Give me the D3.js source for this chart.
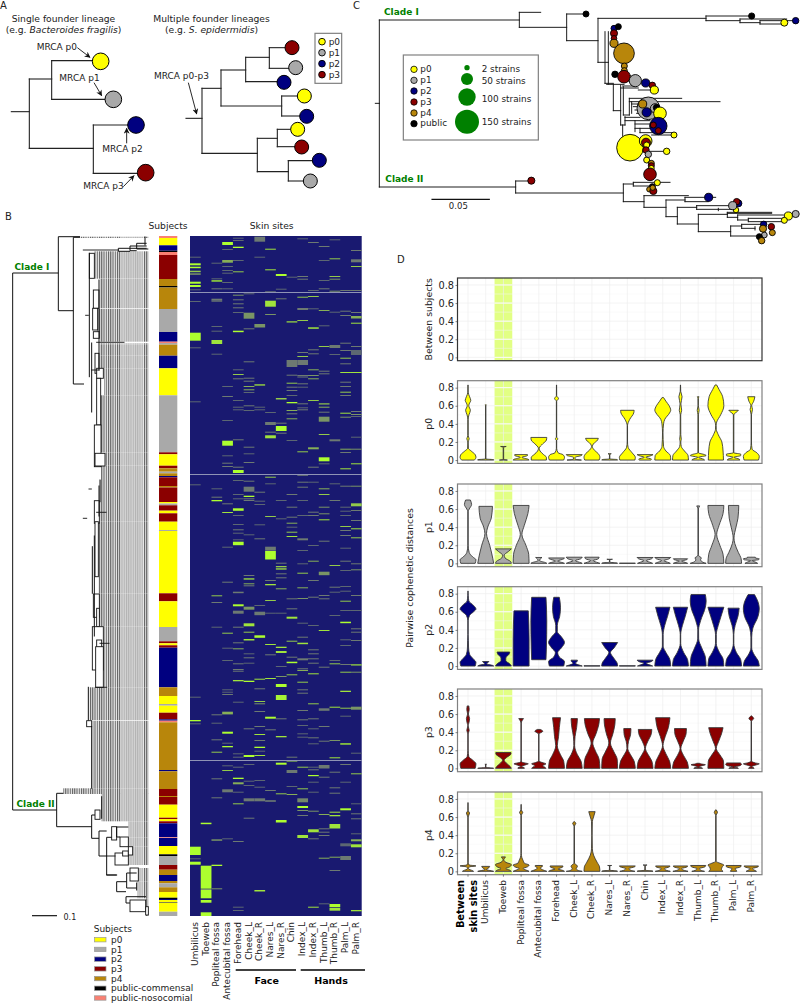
<!DOCTYPE html>
<html><head><meta charset="utf-8">
<script src="https://cdn.jsdelivr.net/npm/d3@7/dist/d3.min.js"></script>
<style>html,body{margin:0;padding:0;background:#fff}svg{display:block}text{font-family:"DejaVu Sans",sans-serif;fill:#222}</style>
</head><body><svg id="fig" width="800" height="1003"></svg>
<script>
const subjectColors={p0:"#ffff00",p1:"#a9a9a9",p2:"#000080",p3:"#8b0000",p4:"#b8860b",pc:"#000000",pn:"#fa8072"};
const legendSubjects=[["p0","p0"],["p1","p1"],["p2","p2"],["p3","p3"],["p4","p4"],["pc","public-commensal"],["pn","public-nosocomial"]];

// ---------- Panel A (units: tree-layout units, 3 per pixel)
const treeA_h=[[335,34,88],[237,88,155],[182,155,280],[298,155,320],[445,88,280],[375,280,385],[520,280,415],
 [355,558,606],[265,606,663],[210,663,737],[172,737,808],[143,808,875],[205,808,885],[245,737,852],[318,663,845],[288,845,913],[348,845,920],[460,606,772],[415,772,832],[388,832,893],[440,832,905],[515,772,865],[482,865,958],[543,865,930]];
const treeA_v=[[88,237,445],[155,182,298],[280,375,520],[606,265,460],[663,210,318],[737,172,245],[808,143,205],[845,288,348],[772,415,515],[832,388,440],[865,482,543]];
const treeA_tips=[[302,184,25,"p0"],[340,298,25,"p1"],[408,375,25,"p2"],[437,518,25,"p3"],
 [876,143,21,"p3"],[887,203,21,"p1"],[852,247,21,"p2"],[913,288,21,"p0"],[920,349,21,"p2"],[893,388,21,"p0"],[905,441,21,"p3"],[958,481,21,"p2"],[931,543,21,"p1"]];
const treeA_arrows=[[232,143,270,172],[282,248,305,287],[380,430,380,385],[370,560,402,527],[565,248,590,342]];
const treeA_labels=[["MRCA p0",110,150],["MRCA p1",178,243],["MRCA p2",307,456],["MRCA p3",250,567],["MRCA p0-p3",462,238]];

// ---------- Panel B
const subjectStrip=[["pn",0,2],["p0",2,9.3],["p2",9.3,14.7],["pc",14.7,16],["pn",16,19],["p3",19,43],["p4",43,50],["pc",50,51.5],["p4",51.5,73],["p1",73,96],["p2",96,105.7],["pn",105.7,107],["p1",107,108.7],["p4",108.7,119.7],["p2",119.7,132.3],["p0",132.3,159.3],["p1",159.3,216.3],["p3",216.3,218.3],["p0",218.3,229.7],["p3",229.7,232.3],["p4",232.3,235.7],["p1",235.7,237.3],["p4",237.3,240],["p2",240,241.3],["p3",241.3,250],["p4",250,251.5],["p3",251.5,266],["p0",266,267.5],["p1",267.5,269.3],["p3",269.3,274.7],["p0",274.7,277.3],["p3",277.3,285.7],["p0",285.7,294],["p1",294,295],["p0",295,357.3],["p3",357.3,365.3],["p0",365.3,391],["p1",391,405.3],["p3",405.3,407.3],["p0",407.3,409.3],["p3",409.3,411.7],["p2",411.7,451.3],["p4",451.3,460],["p0",460,468],["p1",468,469.7],["p0",469.7,476.7],["p3",476.7,483.3],["p2",483.3,484.7],["pn",484.7,486.3],["p4",486.3,534],["p2",534,535.3],["p4",535.3,553],["p3",553,560],["p4",560,561],["p3",561,568.7],["p0",568.7,581.7],["p3",581.7,583],["p0",583,585.3],["p3",585.3,587.3],["p2",587.3,601.3],["pn",601.3,602],["p2",602,610],["p0",610,618.3],["pc",618.3,620],["p1",620,629],["p3",629,633.7],["p4",633.7,639],["p2",639,645],["p4",645,647.3],["p1",647.3,651.3],["p4",651.3,656],["p0",656,661.7],["pc",661.7,663],["p2",663,664],["p0",664,666.7],["p2",666,666.7],["p0",666.7,675.7],["p1",675.7,680]];
const sites=["Umbilicus","Toeweb","Popliteal fossa","Antecubital fossa","Forehead","Cheek_L","Cheek_R","Nares_L","Nares_R","Chin","Index_L","Index_R","Thumb_L","Thumb_R","Palm_L","Palm_R"];
const fullRows=[56,238,524];
// each cell: [strain rank, rows, value]
const cellsUmbilicus=[[20.7,1,.4],[27.3,2,1],[30.7,1.5,1],[34.7,1.5,.8],[37.3,1.5,.6],[45.7,2,1],[49,2,1],[53.3,1,.4],[65,1,.4],[96.7,8,1],[111.3,1,.4],[165.3,1,.4],[248.3,1,.4],[460.7,1,.4],[484,1.3,1],[487.3,1,.4],[610.7,8.3,1],[622.3,1,.4],[625.7,3,1]];
const cellsToeweb=[[586.7,1.5,1],[629.7,23,1],[653,1,.6],[654,8.3,1],[664,2.7,1],[676.3,3.7,1]];
const cellsPopliteal=[[26.7,1,.4],[42.3,1,.4],[44.3,1.3,1],[52.3,1,.5],[62.7,2,.5],[64.7,1,.5],[90,1,.4],[94.7,1,.4],[104,4,.9],[117.7,1,.4],[252.3,1,.4],[260.7,1,.5],[264,1.3,1],[359.3,1,.8],[366,1,.5],[390.7,1,.4],[478.3,1,.5],[486.7,1,.4],[503.3,1,.5],[515.7,1,.8],[542.3,1,.5],[561.3,1,.5],[603.3,1.5,.6],[628.7,1.3,1],[652.3,1,.6]];
const cellsAntecubital=[[6,3,1],[13,1,.4],[24,2.7,.7],[30,1,.4],[34,1,.4],[36.7,1,.4],[46,1,.4],[52.3,1,.4],[150,1,.4],[160,1,.5],[184,1,.4],[204.7,5,1],[219.3,1,.4],[226.7,1,.5],[230,1,.5],[267.3,1,.5],[276,1,.9],[310.7,1,.4],[345.7,1,.5],[396.7,1,.8],[411.7,1,.4],[424,1,.4],[453.3,1,.4],[455.7,1,.4],[458,1,.5],[475.7,2.7,.7],[495.7,2,1],[506.7,1,.4],[510,1.3,1],[529.3,1,.4],[534,1,.8],[553.3,3,.5],[602.3,1,.4]];
const cellsForehead=[[1.7,1,.4],[4,1,.4],[10.7,1.3,1],[24,1,.4],[35.3,1,.8],[58.7,1,.6],[63.3,1,.5],[67.3,1,.5],[71.3,1,.5],[76,1,.4],[94.7,1.5,1],[133.3,1,.4],[138,1,.8],[142.3,1,.5],[164,1,.4],[170.7,1,.4],[173.3,1,.4],[203.3,1,.5],[230.7,1,.5],[234,3,1],[244,1,.4],[258,1,.4],[262.3,1,.4],[272.3,2.5,1],[279,1,.4],[288,1,.4],[293.3,1,.5],[296.7,1,.4],[303.3,1,.4],[305.7,3.5,1],[355.7,1.5,.5],[368.3,2,1],[374.7,3,.5],[390.7,1,.5],[406.3,1,.5],[412.3,1,.7],[427.3,1,.5],[433,1,.5],[434.7,1,.5],[444,1.3,.9],[465.7,1,.4],[517.3,1,.4],[520.7,1,.4],[530.7,1,.4],[541.7,1.3,1],[546.3,2,.7],[555.7,1,.4],[567.3,1,.8],[605,1,.5],[670.7,1,.4],[674,1,.4]];
const cellsCheekL=[[57.3,1,.4],[76.7,6,.6],[92.3,1,.5],[125.3,1,.5],[141.7,1,.5],[144.7,1,.5],[150,1,.7],[153.3,1,.7],[156,1,.4],[169.3,1,.5],[174,1,.4],[210.7,1,.5],[217.3,1,.4],[226,1,.5],[244.7,1,.5],[250.7,5,.5],[259.7,1.3,1],[262.3,1,.5],[264,1,.5],[298.3,1,.4],[339,1,.5],[342.3,1.3,.9],[347.3,1,.7],[349.3,1,.5],[370.7,3,.6],[387.3,3,.9],[395.7,1,.8],[403,1.5,.9],[417.3,1,.4],[421.3,1,.5],[426.7,1,.4],[444.7,1.3,1],[492.3,1,.5],[519,2,1],[528,1,.4],[544.7,1,.4],[549,1,.4],[562.3,3,.5],[581.7,1,.5]];
const cellsCheekR=[[.7,5,.5],[20.7,1,.4],[88,3.5,.6],[148.3,1.3,.9],[170.7,1,.4],[173.3,1,.4],[255.7,1,.5],[264.7,1,.4],[268,1,.4],[288.3,1,.4],[302.3,1,.5],[369,1,.4],[375.7,3.5,.5],[399.3,2.5,1],[442.7,1,.9],[452.3,1,.5],[465,1,.8],[467.3,1,.6],[475,1,.5],[490,1,.5],[498,1,.9],[504,1,.5],[510.7,1.3,1],[514.7,1,.4],[519,1,.9],[544,1,.4],[550.7,1,.4],[562.3,3,.5],[654,1.5,.9]];
const cellsNaresL=[[12.7,1,.9],[33.3,1,.9],[55.3,1,.5],[64.7,6,.9],[78,1,.6],[176,1,.4],[186,3,.5],[195.7,1,.5],[199.3,3,.9],[240.7,1,.8],[247.3,1,.4],[280,1,.8],[310.7,4,.5],[315,8.5,1],[344,1,.5],[348,1.3,.9],[364,1,.8],[376.7,1,.4],[408,1,.9],[418.3,1,.5],[442,1,.9],[480.7,2,1],[493.3,1,.5],[554,1,.5],[564,2,.4]];
const cellsNaresR=[[38,2,1],[52.7,1,.4],[62.3,1,.5],[162,1.5,.8],[186.7,1,.5],[190,5,1],[196.7,1,.5],[264,1,.4],[282.3,1,.4],[326.7,1,.5],[330,1.3,.8],[332.3,1.3,.9],[337.3,1,.5],[341.3,1,.5],[352.3,1,.7],[376.7,1,.4],[410.7,1.3,.9],[415,2,.9],[430,1,.4],[440,1,.6],[448,3,1],[459,5,.95],[482.3,1,.5],[500,1.3,.9],[526.7,2,1],[557.3,1,.8],[584,2.5,1]];
const cellsChin=[[40.7,1,.4],[85.3,1.2,.9],[124,7,.5],[138.7,1,.5],[146.7,1,.8],[150.7,1,.5],[154,1,.5],[159,1,.4],[166,1.3,1],[174,1,.7],[177.3,1,.5],[182.3,1,.7],[204,1,.4],[258,1,.5],[270.7,1,.5],[280.7,1,.5],[286.7,1,.7],[290.7,1,.4],[295.7,1,.8],[300,1,.9],[362.3,1,.5],[372.3,1,.5],[380.7,2,.9],[404.7,1,.8],[420.7,1,.5],[425.7,1.5,1],[438.3,1,.8],[520.7,1,.5],[524,1.5,.9],[534,3,.5],[550,1,.4],[558,1,.7]];
const cellsIndexL=[[2.3,1,.4],[40,1,.5],[42.7,1,.5],[60.7,1,.8],[72,2,.5],[84,1,.8],[116,1,.5],[120,1,.8],[124,5,.5],[139,1,.5],[140.5,1,.5],[147.3,1,.5],[150.7,1,.4],[167.3,1,.5],[171.3,1,.4],[173.3,1,.5],[215.3,1,.8],[239,1,.4],[245.7,1,.5],[250.7,1,.5],[264,1,.4],[279,1,.4],[302.3,2,.5],[314,1,.4],[327.3,1,.4],[336.7,1,.8],[351.3,1,.7],[362,1,.6],[386.7,1,.4],[400.7,1,.5],[406.7,1.5,.9],[422.3,2,.5],[432.3,1,.5],[434,1,.7],[445.7,1,.8],[453.3,1,.5],[456.7,1,.5],[474,1,.5],[483.3,1,.5],[489,1,.4],[497.3,1,.4],[500.7,1,.4],[530.7,1,.8],[552.3,1,.8],[562.3,4,.55],[570,2,1],[574,1,.6],[579,1,.5],[599,3,.9]];
const cellsIndexR=[[6,1,.5],[54,1,.4],[60,1,.8],[72.3,1,.4],[91.3,1.5,.9],[113.3,1,.5],[117.3,1,.5],[133.3,1,.7],[139,1,.6],[142.3,1,.7],[164,1,.8],[211.3,2,.7],[230.7,1,.5],[245.7,1,.4],[275.7,1,.5],[279,1,.5],[309,1,.4],[324.7,1,.7],[344,1,.5],[360.7,1,.5],[389,1,.4],[413.3,1,.5],[417.3,1,.5],[422.3,1,.5],[426.7,1,.5],[437.3,1,.9],[467.3,1,.8],[482.3,1,.5],[492.3,1,.4],[501.3,1,.5],[507.3,1,.4],[530.7,1,.4],[533.3,1,.5],[539,1.2,1],[545.7,1,.4],[555.7,1,.4],[574.7,1,.6],[593.3,3,.9],[602.3,1,.5],[670.7,1,.9]];
const cellsThumbL=[[10,1,.5],[24,1,.4],[44,1,.4],[52.3,1,.5],[74,1,.7],[89.3,1,.4],[110,1,.8],[134.7,1,.5],[137.3,1,.5],[167.3,1.2,.8],[170.7,1,.7],[175.7,1,.5],[180.7,5,.6],[198,1,.8],[221.3,4,1],[227.3,1,.4],[252.3,1,.7],[258,1,.8],[270.7,1,.6],[277.3,1,.6],[283.3,1,.9],[304.7,1,.5],[335.7,3.5,.6],[359,1,.5],[362.3,1,.5],[394,1,.9],[430.7,1,.5],[472.3,2.5,.5],[490,1,.5],[504.7,1,.5],[529,3.5,.5],[540.7,1,.5],[578,1,.7],[592.3,1,.5],[595.7,1,.5],[599,1,.5],[621.7,1,.7],[667.3,1,.4]];
const cellsThumbR=[[3.3,1,.4],[22.3,1,.8],[40,1,.8],[42.7,1,.6],[54.7,1,.6],[75.7,1,.4],[109,3,.5],[118,1,.4],[203.3,2,.5],[247.3,1,.4],[264,1,.5],[329,1,.8],[350.7,1,.5],[355.7,1,.4],[379,1,.4],[424,1,.4],[427.3,1,.8],[470.7,1,.9],[504,1,.6],[521.3,1,.9],[535.7,1,.5],[551.3,1,.5],[556.7,1,.5],[575.7,1,.9],[579,1.3,.9],[588,4.5,.9],[620.7,1,.7],[634,1,.5],[668,3,1],[671.7,3,.9]];
const cellsPalmL=[[54,1,.5],[74.7,1,.5],[79,1,.5],[106.7,1,.5],[114,1,.5],[121.7,1,.8],[127.3,1,.5],[136,1,.9],[145.7,1,.5],[150,1,.5],[155.7,1,.8],[159,1,.5],[176.7,1,.9],[180.7,1,.6],[212.7,1,.7],[216,1,.5],[232.3,1,.9],[249.7,1,.5],[270.7,1,.4],[274.7,1,.4],[279,1,.4],[290,1,.8],[294,1,.5],[299,1,.5],[311.7,1,.4],[324.7,1,.5],[334,1,.4],[350,1,.4],[354.7,1,.4],[364.7,1,.8],[374,1,.4],[385.7,1.5,1],[403.3,1,.4],[409,1,.4],[428,1,.5],[435.7,1,.8],[454.7,1.3,.9],[471.7,1,.8],[479.7,1,.4],[507.3,1.3,1],[528,1,.5],[545.7,1,.4],[572.3,2,1],[607.3,3,.4],[620,4,.5]];
const cellsPalmR=[[14,1,.5],[23.3,3,.5],[30,1,.8],[54,1,.5],[76,1,.5],[80,2.5,.7],[86.7,1,.9],[110,1,.5],[114,5,.4],[136,1,.9],[175,1,.5],[178,1,.6],[180,1,.4],[200.7,1,.4],[212.7,1,.6],[227.3,1,.9],[249.7,1,.6],[267.3,3,.8],[274,1,.5],[284,1,.5],[292.3,1,.9],[301.3,1,.8],[327.3,1,.5],[333.3,1,.6],[359,1,.5],[374,1,.4],[392.3,1,.5],[395.7,1,.5],[404,1,.5],[428.3,1.2,.9],[435.7,1,.6],[470.7,3,.6],[516.7,1,.4],[537.3,1,.8],[567.3,1,.4],[577.3,1,.5],[582.3,1,.5],[597.3,1,.4],[603.3,2,.7],[608.3,3,.9],[674,1.3,.9]];
const siteCells=[cellsUmbilicus,cellsToeweb,cellsPopliteal,cellsAntecubital,cellsForehead,cellsCheekL,cellsCheekR,cellsNaresL,cellsNaresR,cellsChin,cellsIndexL,cellsIndexR,cellsThumbL,cellsThumbR,cellsPalmL,cellsPalmR];

// tree B, x in branch-length units (250*3 per 1.0 divergence), y in strain rank
const treeB_elbows=[[38,37,175,574,170],[175,.7,240,74.7,220],[220,1.3,240,148,252],[355,12.3,440,15.3,390],[390,10,440,14.7,410],[410,7.3,440,13,445],[170,557.3,190,590.7,275],[275,579,285,602.3,297],[297,595,320,620,320],[320,601.3,335,639,350],[350,591,385,601,360],[350,645.7,380,655.7,378],[380,637,410,652,410],[378,660.7,438,667,390]];
const treeB_boxes=[[268,283,17.3,42.3],[280,297,54,72.3],[278,293,72.3,94],[280,298,95.7,102.3],[285,297,117.3,137.3],[290,310,132.3,142.3],[290,302,142.3,189],[283,303,189,230.7],[285,315,217.3,230],[283,298,264.7,287.3],[285,295,285.7,340.7],[280,298,358,381.3],[290,298,372.3,390.7],[277,310,390.7,434],[290,305,404,444],[287,310,410.7,451.3],[260,275,484.7,490.7],[285,300,574,583.3],[335,350,590.7,604],[360,385,601,610.7],[345,385,617,629],[368,385,615,620],[385,398,610.7,619],[390,415,632,645],[390,437,664,675.7],[437,445,670.7,679]];
const treeB_v=[[268,17.3,140.7],[297,44,134],[275,107,176],[300,244,265.7],[277,310.7,357.3],[265,451.3,484],[275,490.7,552.3],[297,250,280],[283,300,400],[305,560.7,582.3],[410,647,654],[435,1,9]];
const treeB_h=[[14,250,355],[106.3,290,372],[79.3,257,265],[253,267,274],[282.3,250,260],[276.3,290,318],[451.3,287,320],[407.3,300,327],[639,320,350],[620,320,345],[134,275,297]];
const treeB_tipBlocks=[[.7,2,240],[15.3,42.7,283],[43,50,300],[50,72.3,300],[73,96,292],[96,105.7,300],[107.3,108.7,300],[108.7,119.7,300],[119.7,132.3,300],[132.3,159.3,312],[159.3,216.3,303],[216.3,229.7,315],[229.7,244,303],[244,285.7,300],[285.7,357.3,295],[357.3,390.7,298],[390.7,411,312],[411,451.3,312],[451.3,484,268],[484.7,552.3,278],[552.3,558,190],[557.3,585.3,305],[585.3,601.3,385],[601.3,610.7,360],[610.7,619,398],[619,629,385],[632,639,415],[639,645.7,412],[645.7,662.3,412],[662.3,667,437],[667,680,438]];

// ---------- Panel C (branch-length units: 172 units = 0.05)
const treeC_h=[[310,76,88],[60,88,508],[37,508,572],[82,508,650],[42,650,708],[122,650,744],[55,744,1068],[48,1068,1205],[62,1068,1170],[57,1170,1310],[68,1170,1230],[62,1230,1337],[72,1230,1303],[187,744,775],[250,765,790],[253,770,822],[332,790,812],[258,818,860],[270,865,925],[264,812,865],[295,838,995],[305,838,1110],[345,820,838],[312,845,880],[320,850,870],[330,855,890],[340,860,880],[352,825,870],[362,825,900],[372,855,910],[385,855,920],[398,870,972],[405,905,972],[375,812,825],[440,818,840],[454,890,950],
 [561,88,497],[543,497,543],[579,497,820],[552,820,850],[547,850,960],[558,850,905],[605,820,882],[587,882,1015],[622,882,948],[600,948,1005],[592,1005,1097],[605,1005,1075],[650,948,982],[622,982,1040],[617,1040,1145],[628,1040,1160],[672,982,1045],[643,1045,1132],[637,1132,1265],[640,1132,1265],[652,1132,1163],[645,1163,1300],[660,1163,1195],[655,1195,1305],[665,1195,1300],[695,1045,1142],[678,1142,1175],[673,1175,1240],[685,1175,1215],[708,1142,1225]];
const treeC_v=[[88,60,561],[508,37,82],[650,42,122],[744,55,187],[1068,48,62],[1170,57,68],[1230,62,72],[775,95,252],[765,95,250],[790,253,332],[812,255,375],[818,375,440],[820,260,345],[838,295,345],[845,305,340],[825,350,375],[855,362,395],[870,385,398],[497,543,579],[820,552,605],[850,547,558],[882,587,622],[948,600,650],[1005,592,605],[982,622,672],[1040,617,628],[1105,625,632],[1045,643,695],[1132,637,652],[1163,645,660],[1195,655,665],[1142,678,708],[1175,673,685],[1215,680,690]];
// circle: [x, y, strains, subject]
const treeC_tips=[[708,42,7,"pc"],[1205,48,8,"pc"],[1337,62,10,"p2"],[1303,68,14,"p0"],
 [792,85,7,"p2"],[805,80,7,"pc"],[792,100,15,"p3"],[792,115,4,"p3"],[792,130,22,"p4"],[822,160,125,"p4"],[823,198,7,"p4"],[823,212,7,"p4"],[795,223,10,"pc"],[838,235,4,"p4"],[822,230,56,"p3"],[856,242,52,"p1"],[887,249,22,"p2"],[907,256,10,"p3"],[913,270,22,"p0"],
 [895,325,140,"p1"],[878,312,22,"p4"],[915,325,30,"p1"],[920,323,12,"pc"],[890,337,30,"p2"],[930,340,56,"p0"],[925,378,100,"p2"],[910,375,7,"p3"],[925,392,7,"p3"],[972,405,7,"p0"],
 [840,443,170,"p0"],[887,423,56,"p0"],[888,428,28,"p3"],[890,435,7,"p0"],[950,454,10,"p0"],[888,450,10,"p3"],[890,480,7,"p0"],[895,463,10,"p1"],[904,490,7,"p4"],[904,497,7,"p3"],[904,505,5,"p0"],[900,523,56,"p3"],[922,548,7,"p0"],[907,560,7,"pc"],[898,568,2,"p4"],[910,573,15,"p3"],[908,563,2,"p4"],
 [544,542,15,"p3"],[1076,592,22,"p2"],[1165,610,15,"p2"],[1160,605,10,"p3"],[1158,630,3,"p0"],[1148,617,22,"p1"],[1337,642,15,"p1"],[1315,648,22,"p0"],[1303,661,7,"p0"],[1241,673,10,"p2"],[1264,680,10,"p3"],[1243,705,5,"p1"],[1239,686,15,"p4"],[1267,698,7,"p4"],[1228,710,7,"pc"],[1235,722,10,"p4"]];
const legendCSubjects=[["p0","p0",208],["p1","p1",241],["p2","p2",273],["p3","p3",306],["p4","p4",339],["pc","public",371]];
const legendCStrains=[[2,203,207],[50,237,243],[100,291,295],[150,365,366]];
const strainDomain=[2,50,100,150], strainRadius=[8,18,26,36];

// ---------- Panel D
const violinSites=["Between skin sites","Umbilicus","Toeweb","Popliteal fossa","Antecubital fossa","Forehead","Cheek_L","Cheek_R","Nares_L","Nares_R","Chin","Index_L","Index_R","Thumb_L","Thumb_R","Palm_L","Palm_R"];
const yTicks=[0,.2,.4,.6,.8];
const violinsP0=[
[[0,.8],[.03,1],[.06,.9],[.1,.4],[.13,.05],[.2,.02],[.235,.15],[.27,.02],[.45,.02],[.5,.12],[.55,.3],[.6,.1],[.62,.15],[.66,.35],[.7,.2],[.75,.02],[.83,.01]],
[[0,1],[.004,1],[.012,.03],[.6,.02],[.61,.08]],
[[0,.5],[.006,.03],[.14,.03],[.15,.35]],
[[0,1],[.008,.9],[.03,.1],[.05,.8],[.06,.8]],
[[0,.95],[.03,.95],[.06,.6],[.1,.15],[.13,.05],[.18,.5],[.22,.95],[.25,1]],
[[0,.9],[.03,1],[.06,.8],[.08,.2],[.13,.02],[.22,.02],[.235,.2],[.25,.02],[.4,.02],[.65,.02],[.68,.25],[.71,.02],[.83,.01]],
[[0,.9],[.01,.1],[.03,.1],[.05,.9],[.06,1]],
[[0,.9],[.03,1],[.07,.8],[.11,.3],[.15,.05],[.18,.2],[.22,.7],[.24,.8]],
[[0,1],[.006,.9],[.012,.03],[.06,.02],[.07,.2]],
[[0,.95],[.03,1],[.08,.6],[.14,.1],[.2,.02],[.38,.02],[.45,.3],[.52,.8],[.55,.85]],
[[0,.7],[.01,.8],[.03,.1],[.05,.8],[.06,1]],
[[0,1],[.05,.95],[.1,.4],[.15,.1],[.3,.03],[.4,.1],[.45,.25],[.52,.85],[.55,1],[.6,.8],[.65,.4],[.69,.1]],
[[0,1],[.05,.95],[.1,.5],[.15,.1],[.2,.04],[.23,.1],[.28,.04],[.5,.03],[.55,.15],[.62,.05],[.7,.2],[.76,.03],[.83,.01]],
[[0,.8],[.008,.7],[.03,.05],[.05,1],[.06,.8],[.08,.03],[.5,.03],[.55,.12],[.6,.02],[.68,.03],[.7,.1]],
[[0,.95],[.1,.9],[.2,.75],[.28,.3],[.34,.05],[.38,.03],[.42,.1],[.5,.6],[.6,1],[.7,.85],[.78,.4],[.83,.1]],
[[0,.8],[.01,.7],[.03,.05],[.05,.9],[.065,.9],[.08,.03],[.5,.03],[.54,.5],[.55,.6]],
[[0,.9],[.04,1],[.08,.7],[.12,.1],[.2,.02],[.5,.02],[.56,.15],[.6,.05],[.65,.3],[.7,.45]]];
const violinsP1=[
[[0,.9],[.04,1],[.07,.6],[.12,.15],[.2,.02],[.57,.02],[.6,.15],[.65,.45],[.7,.3]],
[[0,1],[.05,.9],[.2,.5],[.33,.1],[.4,.25],[.5,.7],[.63,.85]],
[[0,1],[.02,.9],[.06,.2],[.09,.1],[.13,.6],[.16,1]],
[[0,1],[.1,.95],[.2,.6],[.32,.1],[.42,.4],[.55,.85],[.64,1]],
[[0,1],[.006,.9],[.03,.1],[.05,.2],[.065,.4]],
[[0,1],[.005,.85],[.025,.15],[.05,.9],[.06,1]],
[[0,1],[.006,.85],[.03,.15],[.05,.8],[.068,1]],
[[0,1],[.006,.8],[.03,.15],[.05,.8],[.068,.9]],
[[0,1],[.005,.9],[.012,.03],[.04,.02],[.045,.35]],
[[0,1],[.002,1]],
[[0,.95],[.006,.8],[.03,.15],[.05,.8],[.065,1]],
[[0,.95],[.006,.8],[.03,.15],[.05,.8],[.065,1]],
[[0,.9],[.006,.75],[.025,.15],[.04,.75],[.05,.9]],
[[0,1],[.012,.6],[.04,.3],[.06,.4],[.08,.1],[.1,.02],[.6,.02],[.62,.1],[.635,.18]],
[[0,1],[.1,.9],[.2,.5],[.32,.1],[.42,.4],[.55,.9],[.64,1]],
[[0,1],[.05,.95],[.12,.6],[.22,.15],[.28,.05],[.4,.3],[.5,.55],[.64,.65]],
[[0,.8],[.01,.6],[.03,.1],[.04,.9],[.05,1],[.06,.5],[.068,.5]]];
const violinsP2=[
[[0,.9],[.04,1],[.08,.65],[.13,.2],[.2,.07],[.28,.05],[.35,.02],[.5,.02],[.56,.2],[.6,.7],[.63,1],[.67,.7],[.72,.1],[.78,.03],[.83,.01]],
[[0,1],[.006,.9],[.025,.1],[.04,.3],[.05,.4]],
[[0,1],[.02,.85],[.06,.3],[.09,.3],[.13,.7],[.155,.8]],
[[0,1],[.3,1],[.61,.9]],
[[.07,.9],[.2,.95],[.5,1],[.76,.9]],
[[0,.9],[.05,1],[.1,.35],[.15,.15],[.2,.6],[.26,1],[.33,.55],[.38,.1],[.45,.1],[.55,.4],[.65,.5],[.76,.35]],
[[0,1],[.006,.8],[.03,.15],[.05,.35],[.065,.4]],
[[0,1],[.003,1]],
[[0,1],[.03,.95],[.09,.5],[.15,.1],[.2,.55],[.26,1]],
[[0,1],[.003,1]],
[[0,.95],[.006,.8],[.03,.15],[.05,.8],[.065,1]],
[[0,1],[.07,.9],[.15,.4],[.22,.05],[.35,.05],[.45,.25],[.55,.6],[.65,.9]],
[[0,1],[.07,.9],[.15,.4],[.25,.03],[.35,.03],[.45,.25],[.55,.6],[.65,.9]],
[[0,1],[.1,.9],[.2,.45],[.3,.06],[.4,.05],[.5,.3],[.65,.9],[.72,1],[.79,.9]],
[[0,1],[.08,.9],[.15,.45],[.25,.05],[.35,.05],[.45,.3],[.55,.65],[.65,1]],
[[0,1],[.07,.9],[.15,.35],[.25,.03],[.35,.03],[.45,.2],[.55,.55],[.64,.7]],
[[0,1],[.06,.85],[.12,.4],[.2,.05],[.32,.05],[.42,.2],[.55,.85],[.63,1],[.72,.8],[.79,.4]]];
const violinsP3=[
[[0,.9],[.05,1],[.09,.6],[.13,.1],[.2,.02],[.38,.02],[.42,.15],[.47,.02],[.5,.1],[.55,.2],[.6,.05],[.65,.15],[.69,.1]],
[[0,1],[.003,.9],[.01,.03],[.04,.02],[.045,.1]],
[[0,1],[.02,.85],[.06,.35],[.09,.1],[.12,.4],[.16,.95],[.175,.95]],
[[0,.4],[.006,.4],[.02,.05],[.04,.6],[.05,.9],[.065,.2],[.08,.02],[.5,.02],[.55,.3]],
[[0,.9],[.01,.8],[.03,.5],[.05,.9],[.065,.4],[.08,.02],[.38,.02],[.41,.5],[.43,.2]],
[[0,1],[.08,.9],[.15,.5],[.25,.1],[.35,.25],[.45,.35],[.56,.5]],
[[0,1],[.08,.85],[.15,.4],[.25,.05],[.35,.1],[.45,.3],[.55,.4]],
[[0,1],[.1,.9],[.2,.4],[.28,.1],[.38,.5],[.48,.85],[.55,.95]],
[[0,1],[.1,.95],[.18,.55],[.28,.1],[.38,.4],[.48,.65],[.55,.7]],
[[0,1],[.08,.85],[.15,.4],[.22,.05],[.3,.15],[.37,.4],[.44,.45]],
[[0,1],[.08,.85],[.15,.4],[.22,.05],[.3,.35],[.37,.75],[.43,.85]],
[[0,1],[.08,.85],[.16,.4],[.25,.03],[.35,.3],[.45,.7],[.56,.9]],
[[0,1],[.07,.85],[.14,.4],[.22,.05],[.3,.35],[.38,.7],[.44,.75]],
[[0,.55],[.005,.5],[.015,.05],[.03,.5],[.04,.9],[.05,.3],[.056,.2]],
[[0,1],[.08,.95],[.15,.5],[.22,.05],[.3,.35],[.38,.7],[.45,.9]],
[[0,.6],[.006,.5],[.015,.05],[.03,.8],[.045,1],[.06,.85]],
[[0,.35],[.006,.3],[.02,.05],[.035,.5],[.05,1],[.06,.5],[.08,.03],[.52,.02],[.55,.3],[.58,.02]]];
const violinsP4=[
[[0,.7],[.006,.6],[.03,.05],[.05,.2],[.06,1],[.07,.15],[.1,.02],[.6,.02],[.645,.2],[.67,.02],[.76,.01]],
[[0,1],[.006,.7],[.02,.1],[.04,.4],[.055,.5]],
[[0,1],[.015,.75],[.03,.3],[.05,.8],[.075,1],[.1,.3],[.13,.05],[.15,.2],[.16,.25]],
[[0,1],[.015,.6],[.03,.25],[.05,.8],[.07,1],[.09,.4],[.12,.25],[.15,.1],[.2,.02],[.62,.02],[.65,.2],[.68,.02],[.74,.01]],
[[0,1],[.01,.7],[.025,.3],[.04,.2],[.055,.45],[.065,.45]],
[[0,1],[.01,.8],[.025,.2],[.05,.8],[.06,.8]],
[[0,1],[.01,.5],[.03,.25],[.055,.4],[.07,.3],[.09,.03],[.5,.02],[.53,.2],[.55,.02]],
[[0,1],[.05,.95],[.1,.65],[.18,.2],[.25,.05],[.4,.02],[.55,.05],[.6,.2],[.66,.4]],
[[0,1],[.005,.9],[.012,.03],[.06,.02],[.065,.25]],
[[0,.95],[.01,.5],[.03,.2],[.05,.9],[.06,1]],
[[0,1],[.005,.9],[.012,.03],[.065,.02],[.07,.25]],
[[0,.95],[.01,.5],[.03,.2],[.05,.85],[.06,.9]],
[[0,.95],[.01,.5],[.03,.15],[.05,.85],[.06,.9]],
[[0,.8],[.01,.4],[.03,.15],[.05,.85],[.065,.95]],
[[0,.9],[.02,.7],[.05,.8],[.07,1],[.09,.5],[.11,.03],[.62,.02],[.65,.2],[.68,.03]],
[[0,.4],[.01,.35],[.03,.2],[.05,.9],[.065,.95]],
[[0,.65],[.01,.45],[.03,.15],[.05,.85],[.06,.9]]];
const violinPanels=[
 {name:"Between subjects",key:null,top:278,data:[],frame:"#333333"},
 {name:"p0",key:"p0",top:380.7,data:violinsP0,frame:"#808080"},
 {name:"p1",key:"p1",top:484,data:violinsP1,frame:"#808080"},
 {name:"p2",key:"p2",top:586.7,data:violinsP2,frame:"#808080"},
 {name:"p3",key:"p3",top:689,data:violinsP3,frame:"#808080"},
 {name:"p4",key:"p4",top:792,data:violinsP4,frame:"#808080"}];

// ================= drawing =================
const svg=d3.select("#fig");
const defs=svg.append("defs");
function stripe(id,bg,fg,w){const p=defs.append("pattern").attr("id",id).attr("patternUnits","userSpaceOnUse").attr("width",2.25).attr("height",4);
 p.append("rect").attr("width",2.25).attr("height",4).attr("fill",bg);
 p.append("rect").attr("width",w).attr("height",4).attr("fill",fg);}
stripe("stripeDark","#ececec","#5a5a5a",1.05);
stripe("stripeLight","#d4d4d4","#b0b0b0",1);
const u=d3.scaleLinear().domain([0,3]).range([0,1]);   // layout units -> px
function txt(g,s,x,y,o={}){const t=g.append("text").attr("x",x).attr("y",y).text(s).attr("font-size",o.size||9);
 if(o.anchor)t.attr("text-anchor",o.anchor); if(o.weight)t.attr("font-weight",o.weight); if(o.fill)t.style("fill",o.fill); if(o.style)t.attr("font-style",o.style); return t;}
function rot(g,s,x,y,o={}){const t=g.append("text").attr("transform",`translate(${x},${y}) rotate(-90)`).text(s).attr("font-size",o.size||9).attr("dominant-baseline","middle");
 if(o.anchor)t.attr("text-anchor",o.anchor); if(o.weight)t.attr("font-weight",o.weight); return t;}
function hLines(g,data,xs,ys,w,c){g.selectAll(null).data(data).join("line").attr("x1",d=>xs(d[1])).attr("x2",d=>xs(d[2])).attr("y1",d=>ys(d[0])).attr("y2",d=>ys(d[0])).attr("stroke",c).attr("stroke-width",w).attr("stroke-linecap","square");}
function vLines(g,data,xs,ys,w,c){g.selectAll(null).data(data).join("line").attr("x1",d=>xs(d[0])).attr("x2",d=>xs(d[0])).attr("y1",d=>ys(d[1])).attr("y2",d=>ys(d[2])).attr("stroke",c).attr("stroke-width",w).attr("stroke-linecap","square");}

// ---- Panel A
const A=svg.append("g");
txt(A,"A",0,9,{size:10});
hLines(A,treeA_h,u,u,1.1,"#222");vLines(A,treeA_v,u,u,1.1,"#222");
A.selectAll(null).data(treeA_tips).join("circle").attr("cx",d=>u(d[0])).attr("cy",d=>u(d[1])).attr("r",d=>u(d[2])).attr("fill",d=>subjectColors[d[3]]).attr("stroke","#000").attr("stroke-width",1);
defs.append("marker").attr("id","arr").attr("viewBox","0 0 10 10").attr("refX",9).attr("refY",5).attr("markerWidth",6).attr("markerHeight",6).attr("markerUnits","userSpaceOnUse").attr("orient","auto").append("path").attr("d","M0,0L10,5L0,10L3,5Z").attr("fill","#111");
A.selectAll(null).data(treeA_arrows).join("line").attr("x1",d=>u(d[0])).attr("y1",d=>u(d[1])).attr("x2",d=>u(d[2])).attr("y2",d=>u(d[3])).attr("stroke","#111").attr("stroke-width",.9).attr("marker-end","url(#arr)");
treeA_labels.forEach(d=>txt(A,d[0],u(d[1]),u(d[2])));
txt(A,"Single founder lineage",63.5,22,{size:9.2,anchor:"middle"});
const a1=txt(A,"(e.g. ",63.5,33,{size:9.2,anchor:"middle"});a1.append("tspan").text("Bacteroides fragilis").attr("font-style","italic");a1.append("tspan").text(")");
txt(A,"Multiple founder lineages",211.5,22,{size:9.2,anchor:"middle"});
const a2=txt(A,"(e.g. ",211.5,33,{size:9.2,anchor:"middle"});a2.append("tspan").text("S. epidermidis").attr("font-style","italic");a2.append("tspan").text(")");
A.append("rect").attr("x",u(945)).attr("y",u(100)).attr("width",u(80)).attr("height",u(150)).attr("fill","#fff").attr("stroke","#808080").attr("stroke-width",1.2);
["p0","p1","p2","p3"].forEach((k,i)=>{const y=d3.scaleLinear().domain([0,3]).range([125,224])(i);
 A.append("circle").attr("cx",u(966)).attr("cy",u(y)).attr("r",u(10)).attr("fill",subjectColors[k]).attr("stroke","#000").attr("stroke-width",.9);
 txt(A,k,u(986),u(y)+3);});

// ---- Panel B
const B=svg.append("g");
txt(B,"B",5,220,{size:10});
txt(B,"Subjects",168,229,{size:9.2,anchor:"middle"});
txt(B,"Skin sites",271.7,229,{size:9.2,anchor:"middle"});
const rank=d3.scaleLinear().domain([0,680]).range([236,916]);
B.selectAll(null).data(subjectStrip).join("rect").attr("x",159).attr("width",18.3).attr("y",d=>rank(d[1])).attr("height",d=>rank(d[2])-rank(d[1])).attr("fill",d=>subjectColors[d[0]]);
const band=d3.scaleBand().domain(sites).range([190,361.7]);
const heat=d3.scaleLinear().domain([0,.5,1]).range(["#191970","#6d7a72","#adff2f"]);
B.append("rect").attr("x",190).attr("y",rank(0)).attr("width",171.7).attr("height",680).attr("fill",heat(0));
siteCells.forEach((cells,i)=>{B.selectAll(null).data(cells).join("rect").attr("x",band(sites[i])).attr("width",band.bandwidth()).attr("y",d=>rank(d[0])).attr("height",d=>rank(d[1])-rank(0)).attr("fill",d=>heat(d[2]));});
B.selectAll(null).data(fullRows).join("rect").attr("x",190).attr("width",171.7).attr("y",d=>rank(d)).attr("height",1).attr("fill","#8f93b5");
sites.forEach(s=>rot(B,s,band(s)+band.bandwidth()/2,922,{anchor:"end",size:9}));
const faceHands=[["Face",235.7,296,266.7],["Hands",300.7,365,331]];
faceHands.forEach(d=>{B.append("line").attr("x1",d[1]).attr("x2",d[2]).attr("y1",970).attr("y2",970).attr("stroke","#000").attr("stroke-width",1.5);
 txt(B,d[0],d[3],984,{size:9.5,weight:"bold",anchor:"middle"}).style("fill","#000");});
// tree B
const tipEnd=445,lightStart=362,lightEnd=430;
const tipSegs=treeB_tipBlocks.flatMap(d=>{const s=[];
 if(d[2]<lightStart)s.push([d[0],d[1],d[2],lightStart,"stripeDark"]);
 s.push([d[0],d[1],Math.max(d[2],lightStart),lightEnd,"stripeLight"]);
 s.push([d[0],d[1],Math.max(d[2],lightEnd),tipEnd,"stripeDark"]);return s;}).filter(d=>d[3]>d[2]);
B.selectAll(null).data(tipSegs).join("rect").attr("x",d=>u(d[2])).attr("width",d=>u(d[3])-u(d[2])).attr("y",d=>rank(d[0])).attr("height",d=>rank(d[1])-rank(d[0])).attr("fill",d=>`url(#${d[4]})`);
B.selectAll(null).data(treeB_boxes).join("rect").attr("x",d=>u(d[0])).attr("width",d=>u(d[1])-u(d[0])).attr("y",d=>rank(d[2])).attr("height",d=>rank(d[3])-rank(d[2])).attr("fill","#fff").attr("stroke","#111").attr("stroke-width",.9);
vLines(B,treeB_v,u,rank,1,"#111");hLines(B,treeB_h,u,rank,.9,"#111");
B.selectAll(null).data(treeB_elbows).join("path").attr("fill","none").attr("stroke","#111").attr("stroke-width",1).attr("d",d=>`M${u(d[2])},${rank(d[1])}H${u(d[0])}V${rank(d[3])}H${u(d[4])}`);
txt(B,"Clade I",14.5,269.5,{size:9,weight:"bold",fill:"#008000"});
txt(B,"Clade II",16.5,806.5,{size:9,weight:"bold",fill:"#008000"});
B.append("line").attr("x1",32).attr("x2",57).attr("y1",915.7).attr("y2",915.7).attr("stroke","#000").attr("stroke-width",1.1);
txt(B,"0.1",63.5,920,{size:8});
// legend B
txt(B,"Subjects",93.7,931.5,{size:9});
const legY=d3.scalePoint().domain(legendSubjects.map(d=>d[0])).range([939.7,998]);
legendSubjects.forEach(d=>{B.append("rect").attr("x",94.5).attr("y",legY(d[0])-2.2).attr("width",11.5).attr("height",4.4).attr("fill",subjectColors[d[0]]).attr("stroke","#999").attr("stroke-width",.7);
 txt(B,d[1],111,legY(d[0])+3.2,{size:9});});

// ---- Panel C
const C=svg.append("g").attr("transform","translate(350,0)");
txt(C,"C",3,9,{size:10});
hLines(C,treeC_h,u,u,.95,"#111");vLines(C,treeC_v,u,u,.95,"#111");
const strainR=d3.scaleLinear().domain(strainDomain).range(strainRadius);
C.selectAll(null).data(treeC_tips).join("circle").attr("cx",d=>u(d[0])).attr("cy",d=>u(d[1])).attr("r",d=>u(strainR(d[2]))).attr("fill",d=>subjectColors[d[3]]).attr("stroke","#000").attr("stroke-width",.9);
C.append("rect").attr("x",u(160)).attr("y",u(165)).attr("width",u(405)).attr("height",u(255)).attr("fill","#fff").attr("stroke","#808080").attr("stroke-width",1.2);
legendCSubjects.forEach(d=>{C.append("circle").attr("cx",u(192)).attr("cy",u(d[2])).attr("r",3.2).attr("fill",subjectColors[d[0]]).attr("stroke","#000").attr("stroke-width",.8);
 txt(C,d[1],u(211),u(d[2])+2.5,{size:8.9});});
legendCStrains.forEach(d=>{C.append("circle").attr("cx",u(351)).attr("cy",u(d[1])).attr("r",u(strainR(d[0]))).attr("fill","#008000");
 txt(C,d[0]+" strains",u(395),u(d[2])+3.2,{size:8.9});});
txt(C,"Clade I",u(102),u(35)+3.3,{size:9,weight:"bold",fill:"#008000"});
txt(C,"Clade II",u(106),u(537)+3.3,{size:9,weight:"bold",fill:"#008000"});
hLines(C,[[598,246,418]],u,u,1.1,"#111");
txt(C,"0.05",u(325),u(618)+3.2,{size:8.5,anchor:"middle"});

// ---- Panel D
const D=svg.append("g");
txt(D,"D",397,263,{size:10});
const X=d3.scalePoint().domain(violinSites).range([468,751.3]);
const step=X.step();
const left=457.5,right=762,panelH=82.7;
const Y0=d3.scaleLinear().domain([-.037,.877]).range([panelH,0]);
const halfW=d3.scaleLinear().domain([0,1]).range([0,step*.45]);
violinPanels.forEach(p=>{
 const g=D.append("g").attr("transform",`translate(0,${p.top})`);
 g.append("rect").attr("x",left).attr("width",right-left).attr("height",panelH).attr("fill","#fff");
 g.append("rect").attr("x",X("Toeweb")-step/2).attr("width",step).attr("height",panelH).attr("fill","#e2ff84");
 const minor=[.1,.3,.5,.7];
 g.selectAll(null).data(minor).join("line").attr("x1",left).attr("x2",right).attr("y1",d=>Y0(d)).attr("y2",d=>Y0(d)).attr("stroke","#f5f5f5").attr("stroke-width",.5);
 g.selectAll(null).data(yTicks).join("line").attr("x1",left).attr("x2",right).attr("y1",d=>Y0(d)).attr("y2",d=>Y0(d)).attr("stroke","#eeeeee").attr("stroke-width",.7);
 g.selectAll(null).data(violinSites).join("line").attr("x1",d=>X(d)).attr("x2",d=>X(d)).attr("y1",0).attr("y2",panelH).attr("stroke","#eeeeee").attr("stroke-width",.7);
 // white grid over highlighted band
 g.selectAll(null).data(yTicks).join("line").attr("x1",X("Toeweb")-step/2).attr("x2",X("Toeweb")+step/2).attr("y1",d=>Y0(d)).attr("y2",d=>Y0(d)).attr("stroke","#fff").attr("stroke-width",.8);
 const area=d3.area().curve(d3.curveMonotoneY);
 p.data.forEach((pts,i)=>{const cx=X(violinSites[i]);
  g.append("path").attr("d",area.y(d=>Y0(d[0])).x0(d=>cx-halfW(d[1])).x1(d=>cx+halfW(d[1]))(pts)+"Z").attr("fill",subjectColors[p.key]).attr("stroke","#333").attr("stroke-width",.85);});
 g.append("rect").attr("x",left).attr("width",right-left).attr("height",panelH).attr("fill","none").attr("stroke",p.frame).attr("stroke-width",1.2);
 const ax=d3.axisLeft(Y0).tickValues(yTicks).tickSize(2).tickPadding(1.5).tickFormat(d=>d===0?"0":d3.format(".1f")(d));
 const ag=g.append("g").attr("transform",`translate(${left},0)`).call(ax);
 ag.select(".domain").remove();ag.selectAll("line").attr("stroke","#333").attr("stroke-width",.6);
 ag.selectAll("text").attr("font-size",9.8).attr("font-family","DejaVu Sans").style("fill","#222");
 rot(g,p.name,429,(p.key?Y0(.4):Y0(.42)),{anchor:"middle",size:9.3});
});
rot(D,"Pairwise cophenetic distances",410,578,{anchor:"middle",size:9.3});
const bottom=792+panelH;
D.selectAll(null).data(violinSites).join("line").attr("x1",d=>X(d)).attr("x2",d=>X(d)).attr("y1",bottom).attr("y2",bottom+2).attr("stroke","#333").attr("stroke-width",.6);
violinSites.forEach((s,i)=>{
 if(i===0){rot(D,"Between",X(s)-7,880,{anchor:"end",size:9.8,weight:"bold"}).style("fill","#000");
  rot(D,"skin sites",X(s)+5.5,880,{anchor:"end",size:9.8,weight:"bold"}).style("fill","#000");}
 else rot(D,s,X(s),880,{anchor:"end",size:9});
});
</script></body></html>
